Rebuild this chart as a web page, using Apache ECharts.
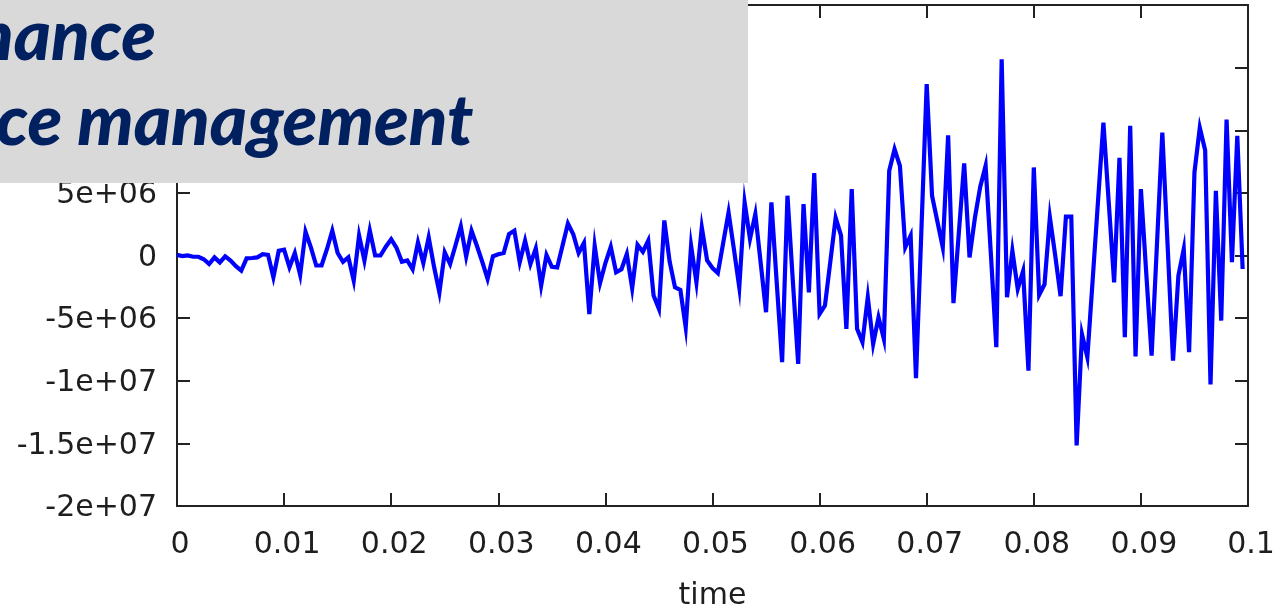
<!DOCTYPE html>
<html>
<head>
<meta charset="utf-8">
<title>time</title>
<script src="https://cdn.jsdelivr.net/npm/echarts@6/dist/echarts.min.js"></script>
<style>
  html, body { margin: 0; padding: 0; background: #ffffff; }
  #chart { width: 1281px; height: 613px; }
</style>
</head>
<body>
<div id="chart"></div>
<script>
// Sampled signal: one value every 0.5 ms from t = 0, amplitudes in millions
const sampleStep = 0.0005;
const amplitudeMillions = [
  0.05, -0.05, 0.0, -0.1, -0.1, -0.3, -0.68, -0.15, -0.55, -0.07,
  -0.4, -0.85, -1.2, -0.23, -0.2, -0.15, 0.1, 0.05, -1.74, 0.38,
  0.47, -0.94, 0.2, -1.55, 1.9, 0.65, -0.8, -0.8, 0.5, 1.98,
  0.2, -0.5, -0.15, -2.0, 1.6, -0.4, 2.0, 0.0, 0.0, 0.7,
  1.3, 0.6, -0.5, -0.4, -1.1, 1.05, -0.6, 1.45, -0.9, -2.94,
  0.25, -0.68, 0.8, 2.33, -0.07, 1.98, 0.78, -0.5, -1.87, -0.07,
  0.1, 0.2, 1.71, 1.98, -0.54, 1.18, -0.68, 0.57, -2.41, 0.04,
  -0.9, -0.95, 0.8, 2.55, 1.7, 0.2, 1.0, -4.67, 0.78, -2.2,
  -0.6, 0.7, -1.34, -1.1, 0.12, -2.62, 0.85, 0.3, 1.18, -3.2,
  -4.27, 2.8, -0.5, -2.54, -2.75, -5.73, 0.78, -2.14, 2.25, -0.4,
  -1.0, -1.4, 1.0, 3.44, 0.5, -2.54, 4.24, 1.32, 3.31, -0.6,
  -4.53, 4.24, -2.2, -8.52, 4.77, -2.0, -8.65, 4.11, -2.94, 6.58,
  -4.67, -4.0, -0.5, 3.0, 1.6, -5.86, 5.3, -5.86, -6.92, -3.33,
  -7.06, -4.93, -6.66, 6.76, 8.49, 7.16, 0.65, 1.58, -9.8, 1.9,
  13.68, 4.77, 2.7, 0.65, 9.6, -3.8, 1.8, 7.35, -0.15, 3.0,
  5.5, 7.16, 0.0, -7.32, 15.67, -3.33, 0.38, -2.67, -1.25, -9.19,
  7.03, -3.15, -2.3, 3.05, 0.0, -3.25, 3.1, 3.1, -15.17, -6.3,
  -8.12, -1.9, 4.4, 10.6, 4.2, -2.14, 7.8, -6.52, 10.35, -8.05,
  5.3, -1.4, -8.0, 0.9, 9.82, 0.7, -8.39, -1.61, 0.52, -7.72,
  6.63, 10.2, 8.4, -10.3, 5.17, -5.2, 10.86, -0.54, 9.55, -1.08
];

// Axis ticks and their printed labels
const xTicks = [0, 0.01, 0.02, 0.03, 0.04, 0.05, 0.06, 0.07, 0.08, 0.09, 0.1];
const xTickLabels = ['0', '0.01', '0.02', '0.03', '0.04', '0.05', '0.06', '0.07', '0.08', '0.09', '0.1'];
const yTicks = [-2e7, -1.5e7, -1e7, -5e6, 0, 5e6, 1e7, 1.5e7, 2e7];
const yTickLabels = ['-2e+07', '-1.5e+07', '-1e+07', '-5e+06', '0', '5e+06', '1e+07', '1.5e+07', '2e+07'];
const xAxisTitle = 'time';

// Heading lines in the banner
const headingLines = ['nance', 'ce management'];

function labelFor(ticks, labels, v) {
  let best = 0;
  for (let k = 1; k < ticks.length; k++) {
    if (Math.abs(ticks[k] - v) < Math.abs(ticks[best] - v)) best = k;
  }
  return labels[best];
}

const seriesData = amplitudeMillions.map((m, i) => [i * sampleStep, m * 1e6]);

const frameColor = '#222222';
const labelFont = { fontFamily: 'DejaVu Sans', fontSize: 30, color: '#1e1e1e' };

const chart = echarts.init(document.getElementById('chart'), null, { renderer: 'canvas' });

const tickStyle = { show: true, inside: true, length: 13, lineStyle: { color: frameColor, width: 2 } };
const lineStyleAxis = { show: true, onZero: false, lineStyle: { color: frameColor, width: 2 } };

chart.setOption({
  animation: false,
  backgroundColor: '#ffffff',
  grid: { left: 177, right: 33, top: 5, bottom: 107, containLabel: false, outerBoundsMode: 'none' },
  xAxis: [
    {
      type: 'value', min: 0, max: 0.1, interval: 0.01, position: 'bottom',
      axisLine: lineStyleAxis, axisTick: tickStyle, splitLine: { show: false },
      axisLabel: Object.assign({
        margin: 24, padding: [0, 0, 0, 6],
        formatter: v => labelFor(xTicks, xTickLabels, v)
      }, labelFont),
      name: xAxisTitle, nameLocation: 'middle', nameGap: 75,
      nameTextStyle: labelFont
    },
    {
      type: 'value', min: 0, max: 0.1, interval: 0.01, position: 'top',
      axisLine: lineStyleAxis, axisTick: tickStyle, splitLine: { show: false },
      axisLabel: { show: false }
    }
  ],
  yAxis: [
    {
      type: 'value', min: -2e7, max: 2e7, interval: 5e6, position: 'left',
      axisLine: lineStyleAxis, axisTick: tickStyle, splitLine: { show: false },
      axisLabel: Object.assign({
        margin: 20,
        formatter: v => '{t|' + labelFor(yTicks, yTickLabels, v) + '}',
        rich: { t: Object.assign({ padding: [5, 0, 0, 0] }, labelFont) }
      }, labelFont)
    },
    {
      type: 'value', min: -2e7, max: 2e7, interval: 5e6, position: 'right',
      axisLine: lineStyleAxis, axisTick: tickStyle, splitLine: { show: false },
      axisLabel: { show: false }
    }
  ],
  series: [
    {
      type: 'line',
      data: seriesData,
      showSymbol: false,
      symbol: 'none',
      lineStyle: { color: '#0000ff', width: 4.2, join: 'miter' },
      z: 3
    }
  ],
  graphic: [
    {
      type: 'rect', z: 100, left: 0, top: 0,
      shape: { x: 0, y: 0, width: 748, height: 183 },
      style: { fill: '#d9d9d9' }
    },
    {
      type: 'text', z: 101, x: -25, y: 37,
      style: {
        text: headingLines[0], fill: '#002060',
        font: 'italic 900 71px Lato', verticalAlign: 'middle'
      }
    },
    {
      type: 'text', z: 101, x: -4, y: 122,
      style: {
        text: headingLines[1], fill: '#002060',
        font: 'italic 900 71px Lato', verticalAlign: 'middle'
      }
    }
  ]
});
</script>
</body>
</html>
